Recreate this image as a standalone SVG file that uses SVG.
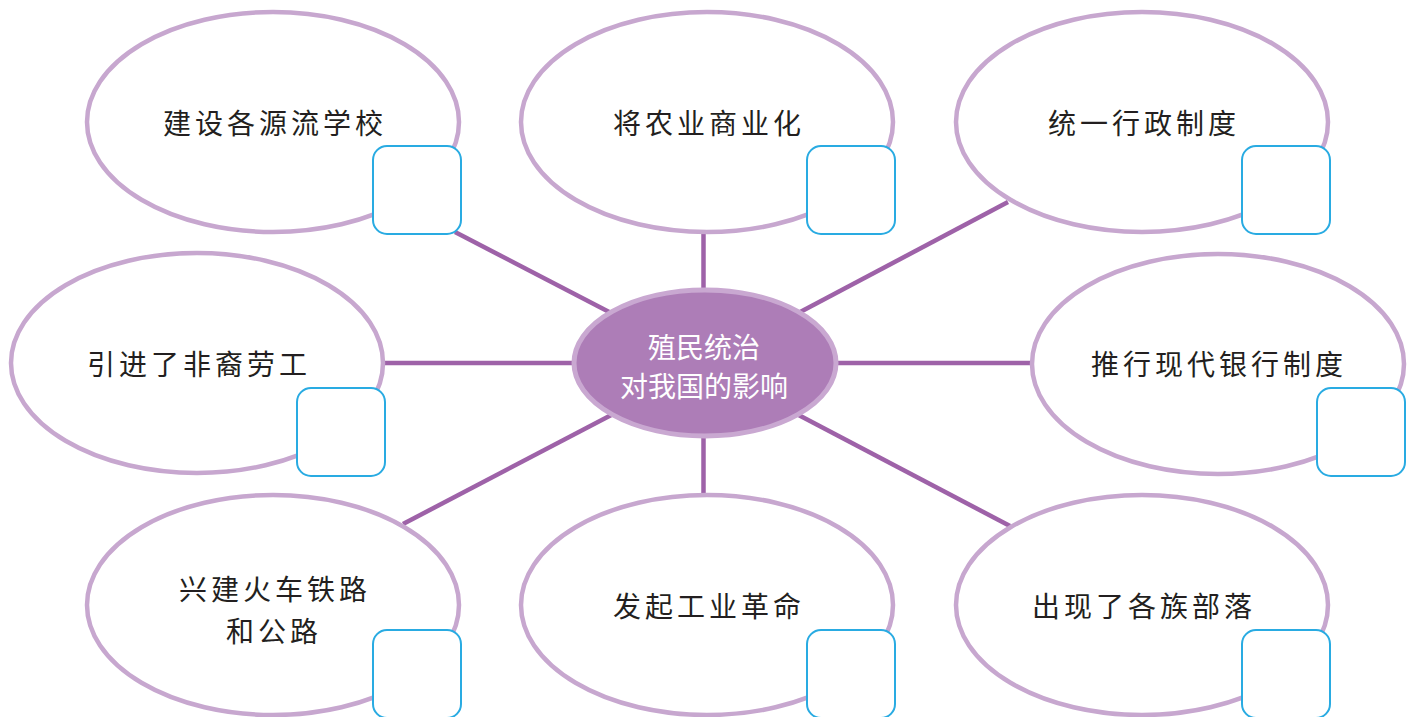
<svg xmlns="http://www.w3.org/2000/svg" width="1416" height="717" viewBox="0 0 1416 717">
<style>
.conn{stroke:#9e62a8;stroke-width:4.5;fill:none}
.oval{fill:#fff;stroke:#c7a7cf;stroke-width:4.5}
.box{fill:#fff;stroke:#29abe2;stroke-width:2}
.lbl{font-family:"Noto Sans CJK SC","Noto Sans CJK TC",sans-serif;font-size:28px;fill:#231f20;letter-spacing:4px;text-anchor:middle;dominant-baseline:central}
.ctr{font-family:"Noto Sans CJK SC",sans-serif;font-size:28px;fill:#fff;text-anchor:middle;dominant-baseline:central}
</style>
<rect width="1416" height="717" fill="#fff"/>
<g id="connectors">
<line class="conn" x1="455" y1="232" x2="640" y2="328"/>
<line class="conn" x1="703.5" y1="225" x2="703.5" y2="300"/>
<line class="conn" x1="1008" y1="202" x2="770" y2="328"/>
<line class="conn" x1="380" y1="363" x2="600" y2="363"/>
<line class="conn" x1="810" y1="363" x2="1035" y2="363"/>
<line class="conn" x1="403" y1="524" x2="640" y2="400"/>
<line class="conn" x1="703.5" y1="420" x2="703.5" y2="500"/>
<line class="conn" x1="770" y1="400" x2="1010" y2="526"/>
</g>
<g id="center">
<ellipse cx="705" cy="363" rx="131" ry="73" fill="#ad7db7" stroke="#c9a8d1" stroke-width="5"/>
<text class="ctr" x="704" y="346">殖民统治</text>
<text class="ctr" x="704" y="385">对我国的影响</text>
</g>
<g id="n1">
<ellipse class="oval" cx="273" cy="122" rx="186" ry="110"/>
<rect class="box" x="373" y="146" width="88" height="88" rx="14"/>
<text class="lbl" x="275" y="122">建设各源流学校</text>
</g>
<g id="n2">
<ellipse class="oval" cx="707" cy="122" rx="186" ry="110"/>
<rect class="box" x="807" y="146" width="88" height="88" rx="14"/>
<text class="lbl" x="709" y="122">将农业商业化</text>
</g>
<g id="n3">
<ellipse class="oval" cx="1142" cy="122" rx="186" ry="110"/>
<rect class="box" x="1242" y="146" width="88" height="88" rx="14"/>
<text class="lbl" x="1144" y="122">统一行政制度</text>
</g>
<g id="n4">
<ellipse class="oval" cx="197" cy="363" rx="186" ry="110"/>
<rect class="box" x="297" y="388" width="88" height="88" rx="14"/>
<text class="lbl" x="199" y="363">引进了非裔劳工</text>
</g>
<g id="n5">
<ellipse class="oval" cx="1218" cy="364" rx="186" ry="110"/>
<rect class="box" x="1317" y="388" width="88" height="88" rx="14"/>
<text class="lbl" x="1219" y="363">推行现代银行制度</text>
</g>
<g id="n6">
<ellipse class="oval" cx="273" cy="605" rx="186" ry="110"/>
<rect class="box" x="373" y="630" width="88" height="88" rx="14"/>
<text class="lbl" x="275" y="588">兴建火车铁路</text>
<text class="lbl" x="274" y="630">和公路</text>
</g>
<g id="n7">
<ellipse class="oval" cx="707" cy="605" rx="186" ry="110"/>
<rect class="box" x="807" y="630" width="88" height="88" rx="14"/>
<text class="lbl" x="709" y="605">发起工业革命</text>
</g>
<g id="n8">
<ellipse class="oval" cx="1142" cy="605" rx="186" ry="110"/>
<rect class="box" x="1242" y="630" width="88" height="88" rx="14"/>
<text class="lbl" x="1144" y="605">出现了各族部落</text>
</g>
</svg>
